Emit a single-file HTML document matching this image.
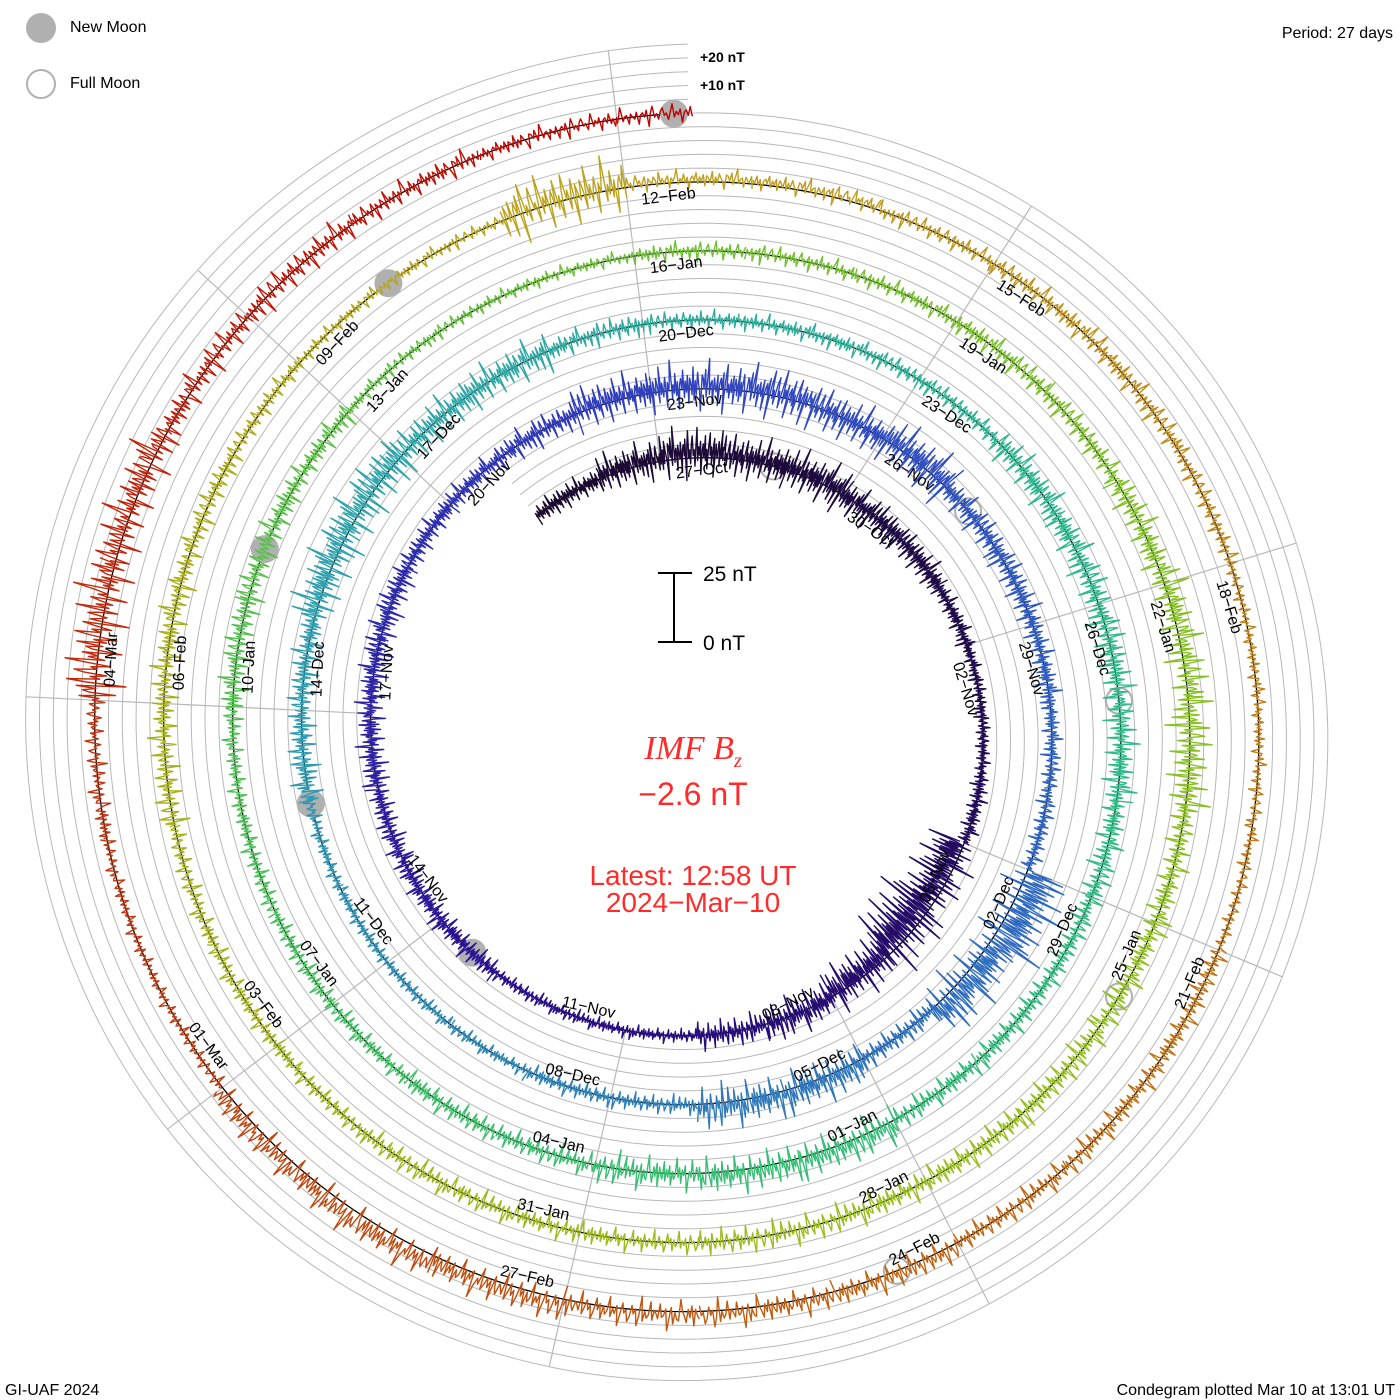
<!DOCTYPE html>
<html><head><meta charset="utf-8"><style>
html,body{margin:0;padding:0;background:#fff;}
svg{display:block;font-family:"Liberation Sans",sans-serif;}
</style></head><body>
<svg id="chart" width="1400" height="1400" viewBox="0 0 1400 1400" xmlns="http://www.w3.org/2000/svg">
<rect width="1400" height="1400" fill="#fff"/>
<g id="grid"></g>
<g id="spokes"></g>
<g id="baseline"></g>
<g id="moons"></g>
<g id="series"></g>
<g id="dates"></g>

<g>
<circle cx="41" cy="28" r="15" fill="#b0b0b0"/>
<text x="70" y="28" font-size="16" dominant-baseline="middle">New Moon</text>
<circle cx="41" cy="84" r="14" fill="none" stroke="#b0b0b0" stroke-width="2"/>
<text x="70" y="84" font-size="16" dominant-baseline="middle">Full Moon</text>
</g>
<text x="1393" y="38" font-size="16" text-anchor="end">Period: 27 days</text>
<text x="700" y="62" font-size="14" font-weight="bold">+20 nT</text>
<text x="700" y="90" font-size="14" font-weight="bold">+10 nT</text>

<g>
<line x1="674" y1="573" x2="674" y2="642" stroke="#000" stroke-width="2"/>
<line x1="658" y1="573" x2="692" y2="573" stroke="#000" stroke-width="2"/>
<line x1="658" y1="642" x2="692" y2="642" stroke="#000" stroke-width="2"/>
<text x="703" y="581" font-size="21">25 nT</text>
<text x="703" y="650" font-size="21">0 nT</text>
</g>

<text x="693" y="759" font-size="34" text-anchor="middle" fill="#ff2a2a" font-family="Liberation Serif, serif" font-style="italic">IMF  B<tspan font-size="20" dy="8">z</tspan></text>
<text x="693" y="805" font-size="32" text-anchor="middle" fill="#ff2a2a">−2.6 nT</text>
<text x="693" y="885" font-size="28" text-anchor="middle" fill="#ff2a2a">Latest: 12:58 UT</text>
<text x="693" y="912" font-size="28" text-anchor="middle" fill="#ff2a2a">2024−Mar−10</text>

<text x="5" y="1395" font-size="16">GI-UAF 2024</text>
<text x="1395" y="1395" font-size="16" text-anchor="end">Condegram plotted Mar 10 at 13:01 UT</text>
</svg>
<script>
// ---- data (day 0 = 24-Oct-2023, day 138 = 10-Mar-2024) ----
const startDate = "2023-10-24";
const bzMean = [
 0,0,1, 2,1,1,0,0, 0,0,0,0, -4,-5,-2, 0,0,0,0,0, 0,0,0,0,0,0,0, 0,0,1, 1,1,0,1, 0,0,0, 0,0, 5,3, 0, 1,1, 0,0,0, 0,0,0, 0,0, 1,1,0,
 0,0, 0,0,0,0, 0,0,0,0,0, 0,0,0, 1,1,0, 0,0,0, 0,0,0, 0,0,0, 0,0,0, 0,0,0, 0,0, 0,1, 0, 0,0,0, 0,0,0, 0,0,0, 0,0,0, 0,0,0,
 0,0,0, 1, 1,1,0, 0,0,0, 0,0,0, 0,0,0, 1,1,1, 2,3,2, 0,0,0, 1,1, 0,0,0, 0,0];
const bzRange = [
 4,5,8, 10,9,9,7,6, 4,3,3,4, 12,16,10, 8,6,3,3,3, 5,5,5,6,6,6,5, 5,6,9, 10,10,9,10, 6,6,5, 4,4, 15,12, 5, 9,9, 4,4,3, 3,3,3, 6,6, 10,10,8,
 8,5, 4,4,4,4, 7,7,7,7,6, 5,5,5, 8,8,7, 5,5,4, 4,4,4, 6,6,5, 3,3,3, 4,4,4, 5,5, 7,8, 9, 6,6,6, 6,6,6, 5,5,5, 4,4,4, 6,6,5,
 4,3,3, 12, 4,4,4, 5,5,4, 3,3,3, 5,5,5, 6,6,6, 7,7,6, 3,3,4, 12,10, 6,6,5, 4,4];
const dataStartDay = 0.8;
const dataEndDay = 138.54;
const newMoonDays = [20.4, 49.97, 79.5, 108.96, 138.4];
const fullMoonDays = [4.8, 34.4, 64.0, 93.7, 123.5];
const fluct = [0.2,-0.3,0.5,0.1,-0.2,-0.9,0.4,0.3,-0.1,0.6,-0.4,0.2,1,-0.3,0.1,0.2,-0.6,0.3,0,-0.2,0.4,-0.7,0.1,0.3,-0.1,0.5,-1,0.2,0.8,-0.2,0.1,-0.4,0.3,0.6,-0.1,0.1,-0.5,0.2,0.9,-0.3,0.2,-0.1,0.4,-0.8,0.1,0.3,-0.2,0.6,-0.3,0.1,-0.6,0.2,0.7,-0.1,0.2,-0.4,0.1,0.5,-0.9,0.3,0,-0.2,0.4,0.1,-0.5,0.8,-0.2,0.2,-0.3,0.1,0.4,-0.7,0.2,-0.1,0.3,1,-0.4,0.1,-0.2,0.5,-0.3,0.2,-0.8,0.1,0.3,-0.1,0.6,-0.4,0.2,-0.2,0.4,-0.6,0.3,0.1,-0.3,0.7,-0.5];
const colorStopDays = [0,10,20,30,40,52,62,72,85,95,105,112,118,124,132,138.6];
const colorStopHex = ["#1a0a2a","#200a50","#2a0f90","#3040c0","#2f6cc0","#30a0b0","#30b890","#38c070","#70c030","#98c020","#a8b018","#c0a020","#c08018","#c06010","#c03010","#c00000"];
const monthNames = ["Jan","Feb","Mar","Apr","May","Jun","Jul","Aug","Sep","Oct","Nov","Dec"];

// ---- geometry ----
const CX = 694, CY = 729.5, R_END = 616.5, GROW = 69, PX_NT = 2.76, PERIOD = 27;
const NS = "http://www.w3.org/2000/svg";
function baseR(day){ return R_END + GROW*(day-dataEndDay)/PERIOD; }
function ang(day){ return (day-dataEndDay)/PERIOD*2*Math.PI; }
function pos(day, v){
  const r = baseR(day) + v*PX_NT, a = ang(day);
  return [CX + r*Math.sin(a), CY - r*Math.cos(a)];
}
function mk(tag, attrs, parent){
  const el = document.createElementNS(NS, tag);
  for (const k in attrs) el.setAttribute(k, attrs[k]);
  parent.appendChild(el); return el;
}
function hex2rgb(h){ return [1,3,5].map(i=>parseInt(h.substr(i,2),16)); }
function colorAt(d){
  let i = 0;
  while (i < colorStopDays.length-2 && d > colorStopDays[i+1]) i++;
  const f = Math.max(0, Math.min(1,(d-colorStopDays[i])/(colorStopDays[i+1]-colorStopDays[i])));
  const a = hex2rgb(colorStopHex[i]), b = hex2rgb(colorStopHex[i+1]);
  return "rgb(" + a.map((v,k)=>Math.round(v+(b[k]-v)*f)).join(",") + ")";
}

// grid spirals
const grid = document.getElementById("grid");
for (let k = 1; k <= 5; k++){
  let p = [];
  for (let d = dataStartDay; d <= dataEndDay; d += 0.1){ p.push(pos(d, k*5).map(v=>v.toFixed(1)).join(",")); }
  const pl = mk("polyline", {points:p.join(" "), fill:"none", stroke:"#b8b8b8", "stroke-width":1}, grid);
  
  
}
// baseline
{
  let p = [];
  for (let d = dataStartDay; d <= dataEndDay; d += 0.1){ p.push(pos(d, 0).map(v=>v.toFixed(1)).join(",")); }
  const pl = mk("polyline", {points:p.join(" "), fill:"none", stroke:"#000", "stroke-width":1.3}, document.getElementById("baseline"));
  
  
}
// date labels + spokes
const base = new Date(startDate + "T00:00:00Z");
const dates = document.getElementById("dates");
const spokes = document.getElementById("spokes");
const spokeDone = {};
for (let d = 3; d <= 133; d += 3){
  const dt = new Date(base.getTime() + d*86400000);
  const lbl = String(dt.getUTCDate()).padStart(2,"0") + "−" + monthNames[dt.getUTCMonth()];
  const [x,y] = pos(d, 0);
  const deg = ang(d)*180/Math.PI;
  const dm = ((deg % 360) + 360) % 360;
  const flip = dm > 95 && dm < 262;
  const attrs = flip
    ? {transform:"translate("+x.toFixed(1)+","+y.toFixed(1)+") rotate("+(deg+180).toFixed(2)+")", x:-14, y:-9, "font-size":16, "text-anchor":"end"}
    : {transform:"translate("+x.toFixed(1)+","+y.toFixed(1)+") rotate("+deg.toFixed(2)+")", x:14, y:19, "font-size":16};
  const t = mk("text", attrs, dates);
  t.textContent = lbl;
  
  
  const key = ((d % 27)+27)%27;
  if (!spokeDone[key]){
    spokeDone[key] = true;
    let d0 = d; while (d0 - 27 >= dataStartDay) d0 -= 27;
    let d1 = d; while (d1 + 27 <= dataEndDay) d1 += 27;
    const a = ang(d), r0 = baseR(d0), r1 = baseR(d1) + 25*PX_NT;
    const ln = mk("line", {x1:(CX+r0*Math.sin(a)).toFixed(1), y1:(CY-r0*Math.cos(a)).toFixed(1), x2:(CX+r1*Math.sin(a)).toFixed(1), y2:(CY-r1*Math.cos(a)).toFixed(1), stroke:"#b8b8b8", "stroke-width":1.2}, spokes);
    
    
  }
}
// moons
const moons = document.getElementById("moons");
newMoonDays.forEach(d=>{
  const [x,y] = pos(d,0);
  const c = mk("circle", {cx:x.toFixed(1), cy:y.toFixed(1), r:14, fill:"#b0b0b0"}, moons);
  
  
});
fullMoonDays.forEach(d=>{
  const [x,y] = pos(d,0);
  const c = mk("circle", {cx:x.toFixed(1), cy:y.toFixed(1), r:13, fill:"none", stroke:"#b0b0b0", "stroke-width":2}, moons);
  
  
});
// series
const series = document.getElementById("series");
const STEPS = 72;
for (let day = 0; day < bzMean.length; day++){
  const p = [];
  for (let i = 0; i <= STEPS; i++){
    const t = day + i/STEPS;
    if (t < dataStartDay || t > dataEndDay) continue;
    const v = bzMean[day] + bzRange[day]*fluct[(day*31 + i) % fluct.length];
    p.push(pos(t, v).map(q=>q.toFixed(1)).join(","));
  }
  if (p.length < 2) continue;
  const pl = mk("polyline", {points:p.join(" "), fill:"none", stroke:colorAt(day+0.5), "stroke-width":1.4, "stroke-linejoin":"round"}, series);
  
  
}
</script>
</body></html>
